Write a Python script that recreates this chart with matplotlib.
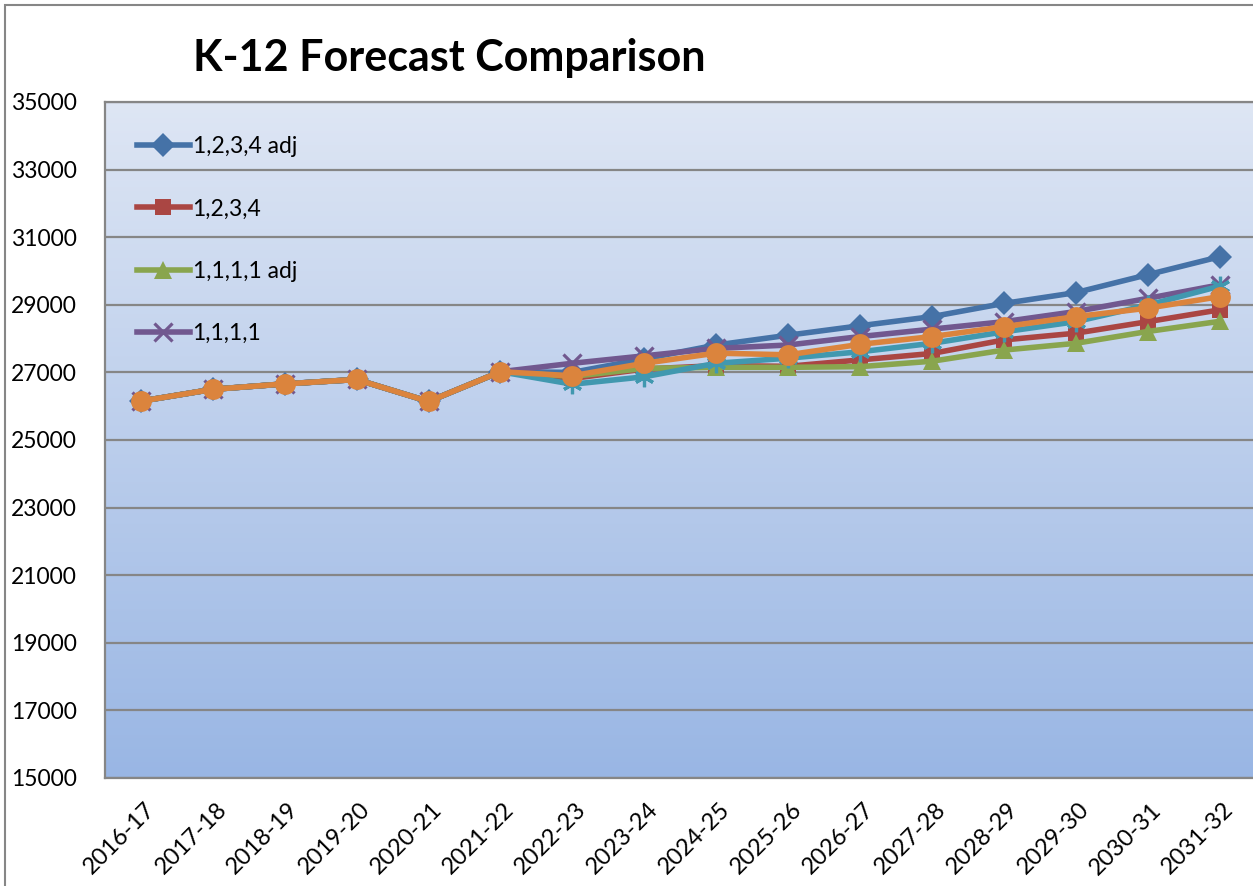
import matplotlib.pyplot as plt
import matplotlib.transforms as mtransforms
from matplotlib.patches import Rectangle
import numpy as np

plt.rcParams['font.family'] = ['Lato', 'DejaVu Sans']

years = ['2016-17', '2017-18', '2018-19', '2019-20', '2020-21', '2021-22',
         '2022-23', '2023-24', '2024-25', '2025-26', '2026-27', '2027-28',
         '2028-29', '2029-30', '2030-31', '2031-32']

# actual enrolment, shared by every series
history = [26150, 26500, 26660, 26790, 26140, 27020]

# forecasts 2022-23 .. 2031-32
adj_1234 = [27000, 27400, 27810, 28100, 28380, 28650, 29040, 29360, 29890, 30420]
plain_1234 = [26820, 27100, 27200, 27180, 27370, 27560, 27960, 28160, 28500, 28850]
adj_1111 = [26880, 27120, 27150, 27150, 27170, 27330, 27660, 27860, 28210, 28510]
plain_1111 = [27270, 27490, 27710, 27810, 28060, 28280, 28500, 28800, 29190, 29590]
series5 = [26650, 26870, 27270, 27420, 27610, 27860, 28200, 28500, 28990, 29550]
series6 = [26900, 27270, 27570, 27520, 27830, 28060, 28350, 28650, 28900, 29240]

names = ['1,2,3,4 adj', '1,2,3,4', '1,1,1,1 adj', '1,1,1,1', '_s5', '_s6']
forecasts = [adj_1234, plain_1234, adj_1111, plain_1111, series5, series6]
colors = ['#4572A7', '#AA4643', '#89A54E', '#71588F', '#4198AF', '#DB843D']
markers = ['D', 's', '^', 'x', (6, 2, 0), 'o']
msizes = [12, 12, 13, 13, 14, 15]

fig = plt.figure(figsize=(12.53, 8.86), dpi=100)
ax = fig.add_axes([105 / 1253, 1 - 778 / 886, 1.002 - 105 / 1253, (778 - 102) / 886])

# gradient background
grad = np.linspace(0, 1, 256).reshape(-1, 1)
top = np.array([222, 230, 244]) / 255
bot = np.array([153, 182, 228]) / 255
img = top * (1 - grad[..., None]) + bot * grad[..., None]
img = img.reshape(256, 1, 3)
ax.imshow(img, extent=[0, 1, 0, 1], transform=ax.transAxes, aspect='auto', zorder=0)

x = np.arange(len(years))
for name, fc, c, m, ms in zip(names, forecasts, colors, markers, msizes):
    vals = history + fc
    ax.plot(x, vals, color=c, lw=4, marker=m, markersize=ms,
            markeredgewidth=2.3 if m in ('x', (6, 2, 0)) else 0,
            markeredgecolor=c, label=name, zorder=3)

ax.set_xlim(-0.5, len(years) - 0.5)
ax.set_ylim(15000, 35000)
ax.set_yticks(range(15000, 35001, 2000))
ax.set_xticks(x)
ax.set_xticklabels(years, rotation=45, ha='right', rotation_mode='anchor', fontsize=17)
for lbl in ax.get_yticklabels():
    lbl.set_fontsize(16.5)
ax.tick_params(axis='both', length=0)
ax.tick_params(axis='y', pad=20)
ax.tick_params(axis='x', pad=15)
offset = mtransforms.ScaledTranslation(3 / 100, 0, fig.dpi_scale_trans)
for lbl in ax.get_xticklabels():
    lbl.set_transform(lbl.get_transform() + offset)

ax.grid(axis='y', color='#868686', lw=1.6, zorder=1)
ax.set_axisbelow(True)
for s in ['right']:
    ax.spines[s].set_visible(False)
for s in ['left', 'bottom', 'top']:
    ax.spines[s].set_color('#868686')
    ax.spines[s].set_linewidth(1.6)

ax.legend(loc='upper left', bbox_to_anchor=(0.01, 0.98), frameon=False, fontsize=16.5,
          labelspacing=1.8, handlelength=2.3, handletextpad=0.12)

fig.text(449 / 1253, 1 - 58 / 886, 'K-12 Forecast Comparison', fontsize=31,
         fontweight='bold', ha='center', va='center')

fig.patches.append(Rectangle((5 / 1253, -0.5), 2, 1.5 - 5 / 886, transform=fig.transFigure,
                             fill=False, edgecolor='#868686', lw=1.5))

fig.savefig('out.png', dpi=100)
